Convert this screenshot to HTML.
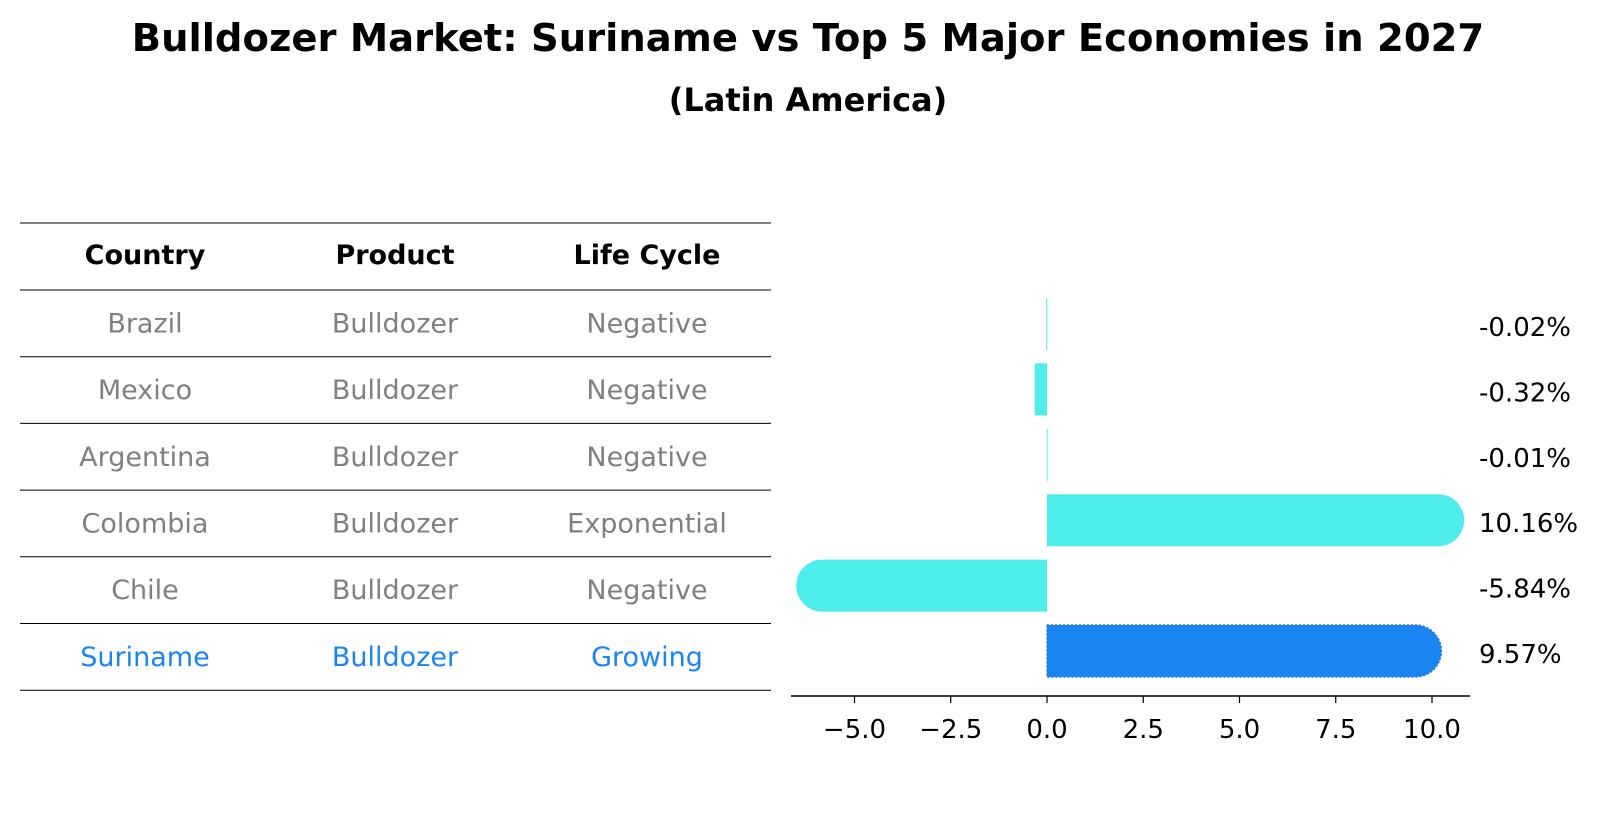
<!DOCTYPE html>
<html><head><meta charset="utf-8"><style>
body{margin:0;background:#fff;}
svg text{font-family:"DejaVu Sans","Liberation Sans",sans-serif;}
</style></head><body>
<svg width="1604" height="823" viewBox="0 0 1604 823" xmlns="http://www.w3.org/2000/svg">
<text x="808" y="51" text-anchor="middle" font-size="38.5" font-weight="bold">Bulldozer Market: Suriname vs Top 5 Major Economies in 2027</text>
<text x="808" y="111" text-anchor="middle" font-size="32" font-weight="bold">(Latin America)</text>
<g id="table"></g>
<g id="bars"></g>
</svg>
<script>
const countries=["Brazil","Mexico","Argentina","Colombia","Chile","Suriname"];
const products=["Bulldozer","Bulldozer","Bulldozer","Bulldozer","Bulldozer","Bulldozer"];
const lifeCycles=["Negative","Negative","Negative","Exponential","Negative","Growing"];
const values=[-0.02,-0.32,-0.01,10.16,-5.84,9.57];
const valueLabels=["-0.02%","-0.32%","-0.01%","10.16%","-5.84%","9.57%"];
const ticks=[-5.0,-2.5,0.0,2.5,5.0,7.5,10.0];
const tickLabels=["\u22125.0","\u22122.5","0.0","2.5","5.0","7.5","10.0"];
const highlight="Suriname";

const NS="http://www.w3.org/2000/svg";
function mk(tag,attrs,parent){const e=document.createElementNS(NS,tag);for(const k in attrs)e.setAttribute(k,attrs[k]);parent.appendChild(e);return e;}
const x=v=>1047+v*38.5;
const rowY=i=>324+i*65.4;

// table
const tbl=document.getElementById('table');
const lineYs=[223,290];
for(let i=0;i<countries.length;i++)lineYs.push(290+(i+1)*66.7);
lineYs.forEach((y,i)=>{const l=mk('line',{x1:20,x2:771,y1:y,y2:y,stroke:'#000','stroke-width':1},tbl);

});
const colX=[145,395,647];
["Country","Product","Life Cycle"].forEach((h,j)=>{const t=mk('text',{x:colX[j],y:264,'text-anchor':'middle','font-size':27,'font-weight':'bold'},tbl);t.textContent=h;

});
countries.forEach((c,i)=>{const cy=290+(i+0.5)*66.7+9;const col=c===highlight?'#1a85f0':'#808080';
[c,products[i],lifeCycles[i]].forEach((s,j)=>{const t=mk('text',{x:colX[j],y:cy,'text-anchor':'middle','font-size':27,fill:col},tbl);t.textContent=s;

});});

// bars
const g=document.getElementById('bars');
const h=52,r=26;
values.forEach((v,i)=>{const cy=rowY(i),x0=x(0),x1=x(v);const w=Math.abs(x1-x0);const col=countries[i]===highlight?'#1a85f0':'#4eedec';
let d;
if(w>2*r){const s=v>0?1:-1;const xe=x1;
d=`M${x0},${cy-h/2} L${xe},${cy-h/2} A${r},${r} 0 0 ${s>0?1:0} ${xe},${cy+h/2} L${x0},${cy+h/2} Z`;}
else{const a=Math.min(x0,x1),ww=Math.max(w,1);d=`M${a},${cy-h/2} h${ww} v${h} h${-ww} Z`;}
const p=mk('path',{d:d,fill:col},g);
if(countries[i]===highlight){p.setAttribute('stroke','#2a78d8');p.setAttribute('stroke-width','1.5');p.setAttribute('stroke-dasharray','2,2');}


const t=mk('text',{x:1479,y:cy+12,'font-size':26},g);t.textContent=valueLabels[i];

});
const ax=mk('line',{x1:791,x2:1470,y1:696,y2:696,stroke:'#000','stroke-width':1.5},g);


ticks.forEach((tv,i)=>{const tk=mk('line',{x1:x(tv),x2:x(tv),y1:696,y2:703,stroke:'#000','stroke-width':1.2},g);


const t=mk('text',{x:x(tv),y:738,'text-anchor':'middle','font-size':26},g);t.textContent=tickLabels[i];

});
</script>
</body></html>
